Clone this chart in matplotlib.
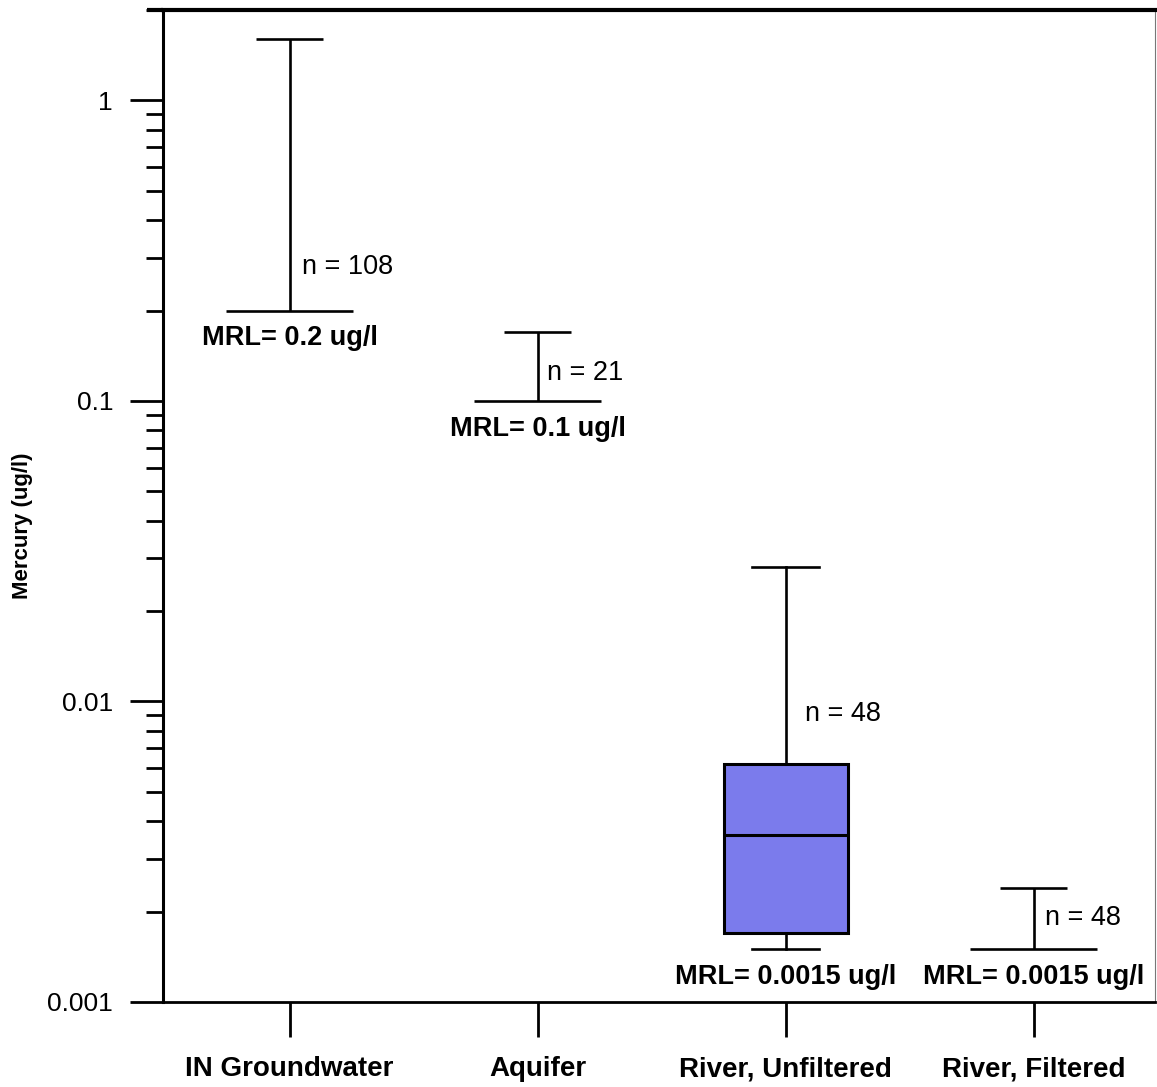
import matplotlib
matplotlib.use("Agg")
import matplotlib.pyplot as plt
import numpy as np

plt.rcParams['font.family'] = ['Liberation Sans', 'DejaVu Sans']

# Mercury concentrations by sample source
categories = ['IN Groundwater', 'Aquifer', 'River, Unfiltered', 'River, Filtered']
n_samples = [108, 21, 48, 48]
mrl = [0.2, 0.1, 0.0015, 0.0015]
whisker_high = [1.6, 0.17, 0.028, 0.0024]
whisker_low = [0.2, 0.1, 0.0015, 0.0015]

# quartiles only available for the unfiltered river samples
box_group = 2
box_q1 = 0.0017
box_median = 0.0036
box_q3 = 0.0062

# where the "n = " labels sit (y in ug/l, x offset from group centre)
n_label_y = [0.28, 0.124, 0.0091, 0.0019]
n_label_dx = [0.05, 0.04, 0.08, 0.045]

box_color = '#7b7bec'
lw = 1.9

fig = plt.figure(figsize=(11.57, 10.87), dpi=100)
ax = fig.add_axes([0.1409, 0.0782, 0.8574, 0.9126])

positions = np.arange(1, len(categories) + 1)

for i, pos in enumerate(positions):
    if i == box_group:
        stats = [{
            'med': box_median, 'q1': box_q1, 'q3': box_q3,
            'whislo': whisker_low[i], 'whishi': whisker_high[i],
            'fliers': [], 'label': categories[i],
        }]
        ax.bxp(stats, positions=[pos], widths=0.5, patch_artist=True,
               showfliers=False, manage_ticks=False,
               boxprops=dict(facecolor=box_color, edgecolor='black', linewidth=2.2),
               medianprops=dict(color='black', linewidth=2.2),
               whiskerprops=dict(color='black', linewidth=lw),
               capprops=dict(color='black', linewidth=lw),
               capwidths=0.27)
    else:
        ax.vlines(pos, whisker_low[i], whisker_high[i], color='black', linewidth=lw)
        ax.hlines(whisker_high[i], pos - 0.135, pos + 0.135, color='black', linewidth=lw)
        ax.hlines(mrl[i], pos - 0.255, pos + 0.255, color='black', linewidth=lw)

    ax.text(pos + n_label_dx[i], n_label_y[i], f'n = {n_samples[i]}',
            fontsize=19.5, ha='left', va='center')
    ax.annotate(f'MRL= {mrl[i]:g} ug/l', xy=(pos, mrl[i]), xytext=(0, -20),
                textcoords='offset points', ha='center', va='center',
                fontsize=19.5, fontweight='bold')

ax.set_yscale('log')
ax.set_ylim(0.001, 2.0)
ax.set_xlim(0.49, 4.49)

ax.set_yticks([0.001, 0.01, 0.1, 1])
ax.set_yticklabels(['0.001', '0.01', '0.1', '1'])
ax.set_xticks(positions)
ax.set_xticklabels(categories, fontweight='bold', fontsize=20)

ax.tick_params(axis='y', which='major', direction='out', length=24, width=2,
               labelsize=19, pad=12)
ax.tick_params(axis='y', which='minor', direction='out', length=12, width=2)
ax.tick_params(axis='x', which='major', direction='out', length=25, width=2, pad=14)

ax.set_ylabel('Mercury (ug/l)', fontsize=16, fontweight='bold')
ax.yaxis.set_label_coords(-0.131, 0.48)

ax.spines['top'].set_linewidth(3)
ax.spines['left'].set_linewidth(2.2)
ax.spines['bottom'].set_linewidth(2)
ax.spines['right'].set_linewidth(0.8)
ax.spines['right'].set_color('#777777')
ax.plot([-0.016, 0], [1, 1], transform=ax.transAxes, color='black',
        linewidth=3, clip_on=False, solid_capstyle='butt')

fig.savefig('out.png', dpi=100)
